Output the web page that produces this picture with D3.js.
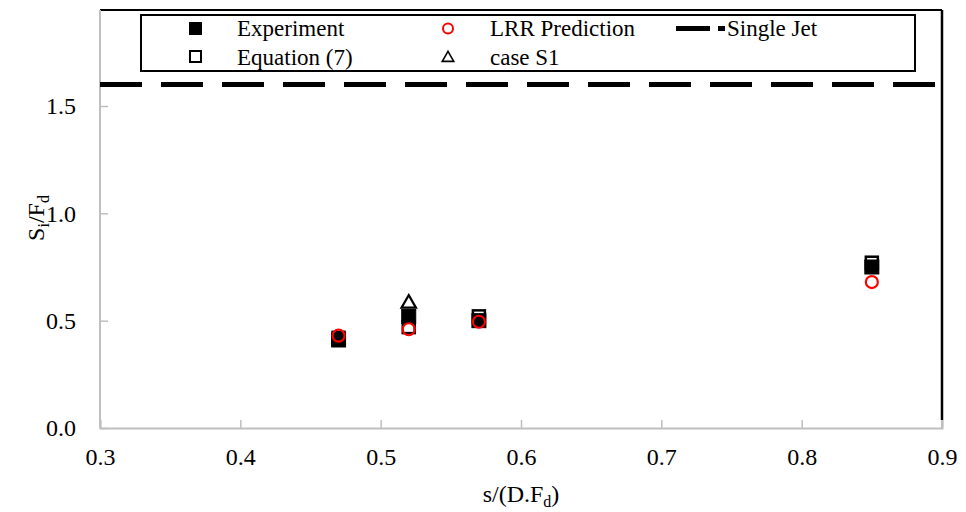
<!DOCTYPE html>
<html><head><meta charset="utf-8">
<script src="https://cdn.jsdelivr.net/npm/d3@7"></script>
<style>body{margin:0;background:#fff} svg text{font-family:'Liberation Serif','DejaVu Serif',serif !important}</style>
</head><body>
<svg id="c" width="966" height="512"></svg>
<script>
const xVals = [0.47, 0.52, 0.57, 0.85];
const experiment = [0.41, 0.52, 0.50, 0.75];
const equation7 = [0.42, 0.47, 0.52, 0.77];
const lrr = [0.43, 0.46, 0.495, 0.68];
const caseS1X = [0.52];
const caseS1 = [0.58];
const singleJet = 1.6;
const xTicks = [0.3, 0.4, 0.5, 0.6, 0.7, 0.8, 0.9];
const yTicks = [0.0, 0.5, 1.0, 1.5];

const svg = d3.select("#c");
const x = d3.scaleLinear().domain([0.3, 0.9]).range([100, 942]);
const y = d3.scaleLinear().domain([0, 1.5]).range([428, 106]);
const yTop = 10;

svg.append("line").attr("x1", 100).attr("x2", 942).attr("y1", yTop).attr("y2", yTop)
  .attr("stroke", "#000").attr("stroke-width", 2);
svg.append("line").attr("x1", 942).attr("x2", 942).attr("y1", yTop).attr("y2", 420)
  .attr("stroke", "#000").attr("stroke-width", 2.5);
svg.append("line").attr("x1", 942).attr("x2", 942).attr("y1", 420).attr("y2", 428)
  .attr("stroke", "#bfbfbf").attr("stroke-width", 2);

const xAxis = d3.axisBottom(x).tickValues(xTicks).tickFormat(d3.format(".1f")).tickSize(-8).tickPadding(20);
const gx = svg.append("g").attr("transform", "translate(0,428)").call(xAxis);
gx.attr("font-family", null);
gx.select(".domain").attr("stroke", "#bfbfbf").attr("stroke-width", 2);
gx.selectAll(".tick line").attr("stroke", "#bfbfbf").attr("stroke-width", 1.5);
gx.selectAll(".tick text").attr("font-size", 24).attr("fill", "#000");

const yAxis = d3.axisLeft(y).tickValues(yTicks).tickFormat(d3.format(".1f")).tickSize(-8).tickPadding(24);
const gy = svg.append("g").attr("transform", "translate(100,0)").call(yAxis);
gy.attr("font-family", null);
gy.select(".domain").remove();
gy.append("line").attr("x1", 0).attr("x2", 0).attr("y1", yTop).attr("y2", 428).attr("stroke", "#bfbfbf").attr("stroke-width", 2);
gy.selectAll(".tick line").attr("stroke", "#bfbfbf").attr("stroke-width", 1.5);
gy.selectAll(".tick text").attr("font-size", 24).attr("fill", "#000");

const xt = svg.append("text").attr("x", 521).attr("y", 502).attr("text-anchor", "middle").attr("font-size", 24);
xt.append("tspan").text("s/(D.F");
xt.append("tspan").attr("font-size", 16).attr("dy", 5).text("d");
xt.append("tspan").attr("dy", -5).text(")");

const yt = svg.append("text").attr("transform", "translate(44,218) rotate(-90)").attr("text-anchor", "middle").attr("font-size", 24);
yt.append("tspan").text("S");
yt.append("tspan").attr("font-size", 16).attr("dy", 5).text("i");
yt.append("tspan").attr("dy", -5).text("/F");
yt.append("tspan").attr("font-size", 16).attr("dy", 5).text("d");

svg.append("line").attr("x1", 100).attr("x2", 942).attr("y1", y(singleJet)).attr("y2", y(singleJet))
  .attr("stroke", "#000").attr("stroke-width", 5).attr("stroke-dasharray", "42,19");

const S = 14;
svg.append("g").selectAll("rect").data(xVals).join("rect")
  .attr("x", (d) => x(d) - S/2).attr("y", (d, i) => y(experiment[i]) - S/2)
  .attr("width", S).attr("height", S).attr("fill", "#000").attr("stroke", "#000").attr("stroke-width", 1);
svg.append("g").selectAll("rect").data(xVals).join("rect")
  .attr("x", (d) => x(d) - S/2 + 1).attr("y", (d, i) => y(equation7[i]) - S/2 + 1)
  .attr("width", S - 2).attr("height", S - 2).attr("fill", "none").attr("stroke", "#000").attr("stroke-width", 2.5);
svg.append("g").selectAll("circle").data(xVals).join("circle")
  .attr("cx", (d) => x(d)).attr("cy", (d, i) => y(lrr[i])).attr("r", 6)
  .attr("fill", "none").attr("stroke", "#ff0000").attr("stroke-width", 2.2);
const tri = d3.symbol().type(d3.symbolTriangle).size(90);
svg.append("g").selectAll("path").data(caseS1X).join("path")
  .attr("d", tri).attr("transform", (d, i) => `translate(${x(d)},${y(caseS1[i])})`)
  .attr("fill", "#fff").attr("stroke", "#000").attr("stroke-width", 2.2);

const lg = svg.append("g");
lg.append("rect").attr("x", 141).attr("y", 15).attr("width", 774).attr("height", 56)
  .attr("fill", "#fff").attr("stroke", "#000").attr("stroke-width", 2);
lg.append("rect").attr("x", 189).attr("y", 22).attr("width", 13).attr("height", 13).attr("fill", "#000");
lg.append("rect").attr("x", 190).attr("y", 51).attr("width", 11).attr("height", 11).attr("fill", "none").attr("stroke", "#000").attr("stroke-width", 2);
lg.append("circle").attr("cx", 448).attr("cy", 28.5).attr("r", 5).attr("fill", "none").attr("stroke", "#ff0000").attr("stroke-width", 2);
lg.append("path").attr("d", tri).attr("fill", "#fff").attr("stroke", "#000").attr("stroke-width", 2).attr("transform", "translate(448,58) scale(0.8)");
lg.append("line").attr("x1", 676).attr("x2", 710).attr("y1", 28.5).attr("y2", 28.5).attr("stroke", "#000").attr("stroke-width", 5);
lg.append("line").attr("x1", 718).attr("x2", 725).attr("y1", 28.5).attr("y2", 28.5).attr("stroke", "#000").attr("stroke-width", 5);
const lt = [["Experiment", 237, 36], ["Equation (7)", 237, 65], ["LRR Prediction", 490, 36], ["case S1", 490, 65], ["Single Jet", 727, 36]];
lg.selectAll("text").data(lt).join("text").attr("x", (d) => d[1]).attr("y", (d) => d[2]).attr("font-size", 23).text((d) => d[0]);
</script>
</body></html>
